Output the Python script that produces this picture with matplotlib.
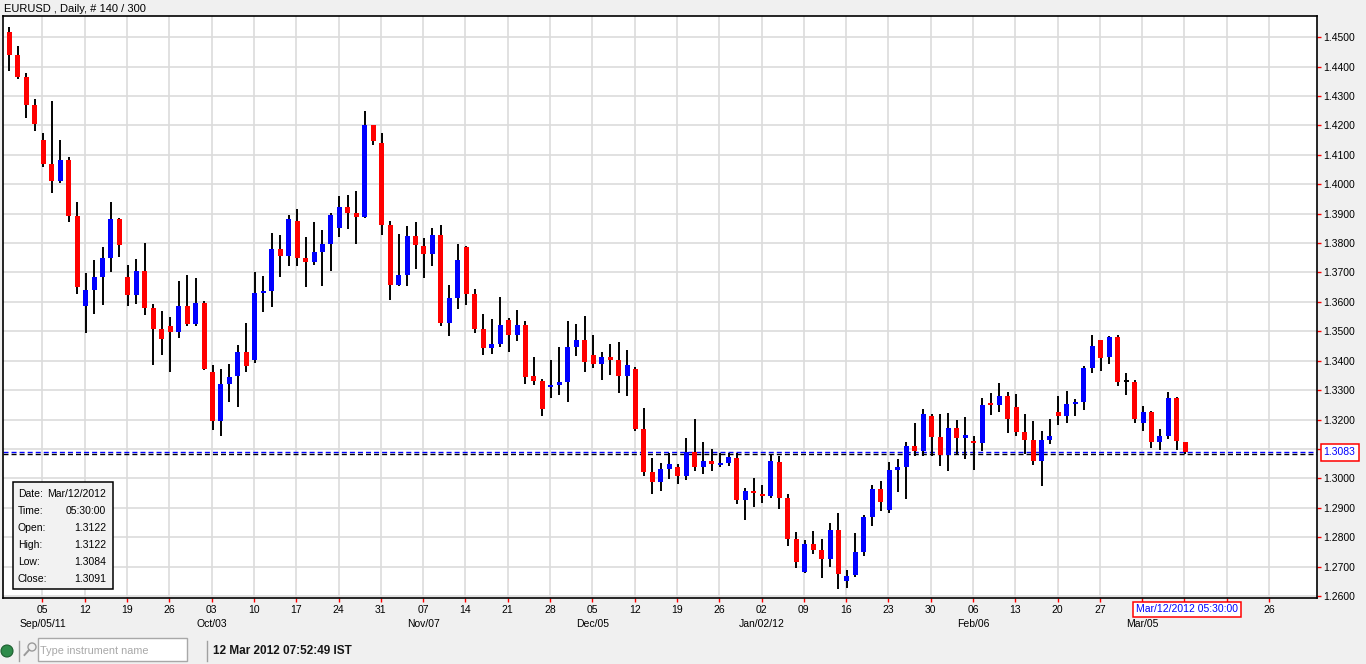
import numpy as np
import pandas as pd
import matplotlib
matplotlib.use("Agg")
import matplotlib.pyplot as plt
from matplotlib.patches import Rectangle, Ellipse
from matplotlib.lines import Line2D
from matplotlib.ticker import FormatStrFormatter

plt.rcParams['font.family'] = ['Liberation Sans', 'DejaVu Sans']

# ---- chart data (EURUSD daily) ----
title = "EURUSD , Daily, # 140 / 300"
first_day = "2011-08-30"
axis_days = 150  # business days on the time axis (chart leaves room on the right)

opens = [1.4518, 1.4440, 1.4365, 1.4270, 1.4151, 1.4069, 1.4012, 1.4083, 1.3892, 1.3587,
         1.3642, 1.3686, 1.3750, 1.3882, 1.3686, 1.3624, 1.3705, 1.3580, 1.3509, 1.3519,
         1.3499, 1.3587, 1.3526, 1.3597, 1.3363, 1.3196, 1.3322, 1.3349, 1.3431, 1.3403,
         1.3630, 1.3637, 1.3780, 1.3757, 1.3875, 1.3750, 1.3737, 1.3770, 1.3798, 1.3852,
         1.3923, 1.3902, 1.3890, 1.4202, 1.4140, 1.3863, 1.3659, 1.3693, 1.3824, 1.3790,
         1.3764, 1.3828, 1.3529, 1.3614, 1.3787, 1.3627, 1.3508, 1.3444, 1.3458, 1.3538,
         1.3488, 1.3521, 1.3349, 1.3331, 1.3312, 1.3318, 1.3329, 1.3448, 1.3470, 1.3419,
         1.3390, 1.3413, 1.3402, 1.3349, 1.3372, 1.3168, 1.3022, 1.2989, 1.3033, 1.3040,
         1.3009, 1.3091, 1.3040, 1.3059, 1.3046, 1.3053, 1.3069, 1.2927, 1.2958, 1.2948,
         1.2941, 1.3056, 1.2933, 1.2794, 1.2682, 1.2777, 1.2756, 1.2727, 1.2824, 1.2652,
         1.2672, 1.2750, 1.2869, 1.2964, 1.2893, 1.3029, 1.3040, 1.3110, 1.3093, 1.3212,
         1.3140, 1.3080, 1.3171, 1.3137, 1.3127, 1.3120, 1.3253, 1.3249, 1.3280, 1.3243,
         1.3158, 1.3130, 1.3059, 1.3130, 1.3226, 1.3212, 1.3253, 1.3260, 1.3375, 1.3470,
         1.3413, 1.3481, 1.3327, 1.3328, 1.3188, 1.3226, 1.3124, 1.3144, 1.3273, 1.3122]
highs = [1.4535, 1.4470, 1.4379, 1.4290, 1.4174, 1.4284, 1.4151, 1.4093, 1.3940, 1.3699,
         1.3744, 1.3787, 1.3940, 1.3884, 1.3726, 1.3747, 1.3800, 1.3594, 1.3570, 1.3550,
         1.3671, 1.3692, 1.3682, 1.3604, 1.3386, 1.3373, 1.3390, 1.3454, 1.3529, 1.3702,
         1.3688, 1.3834, 1.3828, 1.3896, 1.3916, 1.3821, 1.3872, 1.3845, 1.3902, 1.3960,
         1.3964, 1.3977, 1.4249, 1.4203, 1.4174, 1.3875, 1.3831, 1.3858, 1.3872, 1.3817,
         1.3851, 1.3862, 1.3659, 1.3797, 1.3790, 1.3644, 1.3559, 1.3542, 1.3617, 1.3545,
         1.3572, 1.3535, 1.3414, 1.3338, 1.3403, 1.3448, 1.3535, 1.3525, 1.3552, 1.3487,
         1.3430, 1.3457, 1.3464, 1.3436, 1.3379, 1.3239, 1.3070, 1.3053, 1.3087, 1.3050,
         1.3138, 1.3203, 1.3124, 1.3100, 1.3085, 1.3085, 1.3085, 1.2966, 1.3001, 1.2977,
         1.3079, 1.3076, 1.2947, 1.2817, 1.2790, 1.2821, 1.2794, 1.2848, 1.2882, 1.2689,
         1.2814, 1.2875, 1.2977, 1.2991, 1.3056, 1.3066, 1.3124, 1.3188, 1.3236, 1.3219,
         1.3219, 1.3222, 1.3198, 1.3208, 1.3144, 1.3273, 1.3290, 1.3324, 1.3294, 1.3287,
         1.3219, 1.3195, 1.3161, 1.3202, 1.3280, 1.3297, 1.3270, 1.3382, 1.3487, 1.3471,
         1.3484, 1.3487, 1.3358, 1.3334, 1.3246, 1.3229, 1.3168, 1.3294, 1.3277, 1.3122]
lows = [1.4386, 1.4358, 1.4227, 1.4182, 1.4060, 1.3971, 1.4005, 1.3873, 1.3628, 1.3495,
        1.3560, 1.3590, 1.3703, 1.3754, 1.3587, 1.3594, 1.3556, 1.3386, 1.3420, 1.3363,
        1.3478, 1.3519, 1.3519, 1.3369, 1.3165, 1.3145, 1.3261, 1.3244, 1.3363, 1.3393,
        1.3567, 1.3584, 1.3686, 1.3723, 1.3723, 1.3652, 1.3727, 1.3655, 1.3706, 1.3822,
        1.3849, 1.3798, 1.3886, 1.4135, 1.3829, 1.3608, 1.3655, 1.3655, 1.3713, 1.3682,
        1.3723, 1.3519, 1.3485, 1.3577, 1.3590, 1.3495, 1.3420, 1.3424, 1.3448, 1.3431,
        1.3468, 1.3322, 1.3318, 1.3213, 1.3274, 1.3284, 1.3261, 1.3417, 1.3363, 1.3376,
        1.3335, 1.3352, 1.3291, 1.3281, 1.3162, 1.3009, 1.2948, 1.2958, 1.2997, 1.2982,
        1.2995, 1.3026, 1.3016, 1.3026, 1.3040, 1.3043, 1.2914, 1.2859, 1.2903, 1.2917,
        1.2934, 1.2897, 1.2771, 1.2696, 1.2679, 1.2744, 1.2662, 1.2699, 1.2625, 1.2628,
        1.2665, 1.2737, 1.2839, 1.2890, 1.2883, 1.2954, 1.2931, 1.3076, 1.3076, 1.3076,
        1.3042, 1.3025, 1.3084, 1.3067, 1.3029, 1.3093, 1.3215, 1.3226, 1.3154, 1.3144,
        1.3083, 1.3045, 1.2974, 1.3117, 1.3181, 1.3188, 1.3212, 1.3232, 1.3358, 1.3365,
        1.3389, 1.3314, 1.3283, 1.3188, 1.3161, 1.3103, 1.3096, 1.3134, 1.3096, 1.3084]
closes = [1.4441, 1.4366, 1.4271, 1.4206, 1.4070, 1.4012, 1.4083, 1.3893, 1.3652, 1.3641,
          1.3686, 1.3750, 1.3882, 1.3795, 1.3624, 1.3705, 1.3580, 1.3509, 1.3475, 1.3499,
          1.3587, 1.3526, 1.3597, 1.3373, 1.3196, 1.3322, 1.3346, 1.3431, 1.3383, 1.3630,
          1.3637, 1.3780, 1.3757, 1.3882, 1.3750, 1.3737, 1.3770, 1.3797, 1.3896, 1.3923,
          1.3903, 1.3890, 1.4202, 1.4148, 1.3863, 1.3659, 1.3692, 1.3824, 1.3795, 1.3764,
          1.3828, 1.3529, 1.3613, 1.3743, 1.3628, 1.3509, 1.3444, 1.3457, 1.3521, 1.3488,
          1.3521, 1.3346, 1.3332, 1.3237, 1.3318, 1.3329, 1.3447, 1.3470, 1.3397, 1.3390,
          1.3413, 1.3403, 1.3349, 1.3385, 1.3169, 1.3023, 1.2989, 1.3032, 1.3049, 1.3009,
          1.3091, 1.3040, 1.3059, 1.3050, 1.3052, 1.3072, 1.2927, 1.2958, 1.2951, 1.2941,
          1.3059, 1.2934, 1.2795, 1.2716, 1.2777, 1.2757, 1.2727, 1.2824, 1.2676, 1.2668,
          1.2749, 1.2868, 1.2964, 1.2920, 1.3028, 1.3038, 1.3110, 1.3093, 1.3219, 1.3140,
          1.3079, 1.3171, 1.3137, 1.3147, 1.3120, 1.3249, 1.3249, 1.3280, 1.3202, 1.3158,
          1.3130, 1.3059, 1.3130, 1.3144, 1.3212, 1.3253, 1.3260, 1.3375, 1.3450, 1.3409,
          1.3481, 1.3328, 1.3327, 1.3202, 1.3226, 1.3124, 1.3144, 1.3273, 1.3127, 1.3091]

ask_level = 1.3088     # blue dashed line
bid_level = 1.3084     # black dashed line
price_label = "1.3083"
cursor_label = "Mar/12/2012 05:30:00"
cursor_bar = 139
cursor_halfwidth = 6.5  # bars hidden either side of the cursor label
info_rows = ["Date:", "Time:", "Open:", "High:", "Low:", "Close:"]
info_vals = ["Mar/12/2012", "05:30:00", "1.3122", "1.3122", "1.3084", "1.3091"]
status_time = "12 Mar 2012 07:52:49 IST"
search_hint = "Type instrument name"

W, H = 1366, 664


def fx(px):
    return px / W


def fy(py):
    return 1 - py / H


fig = plt.figure(figsize=(W / 100, H / 100), dpi=100, facecolor="#f0f0f0")
ax = fig.add_axes([fx(3.3), fy(598), (1317.3 - 3.3) / W, (598 - 16) / H])
ax.set_facecolor("white")

o = np.array(opens)
c = np.array(closes)
hi = np.array(highs)
lo = np.array(lows)
x = np.arange(len(o))

colors = np.where(c > o, "#0000ff", np.where(c < o, "#ff0000", "black"))
ax.vlines(x, lo, hi, color="black", lw=1.4, zorder=3)
body_bottom = np.minimum(o, c)
body_height = np.maximum(np.abs(c - o), 0.0006)
ax.bar(x, body_height, bottom=body_bottom, width=0.59, color=colors, lw=0, zorder=4)

# bid / ask lines
ax.axhline(ask_level, color="#0000ff", lw=1.0, ls=(0, (3.6, 2.2)), zorder=2.5)
ax.axhline(bid_level, color="black", lw=1.0, ls=(0, (3.6, 2.2)), zorder=2.5)

ax.set_xlim(-0.73, 154.6)
ax.set_ylim(1.25929, 1.45724)

# y axis on the right
ax.yaxis.tick_right()
ax.set_yticks(np.arange(1.26, 1.4501, 0.01))
ax.yaxis.set_major_formatter(FormatStrFormatter("%.4f"))
ax.tick_params(axis="y", colors="red", labelcolor="black", length=3.2, width=1,
               pad=0.8, labelsize=7.5, direction="out")

# weekly ticks on the time axis (labels under the cursor box are hidden)
dates = pd.bdate_range(first_day, periods=axis_days)
mondays = [i for i, d in enumerate(dates) if d.weekday() == 0]
ax.set_xticks([m - 0.1 for m in mondays])
ax.set_xticklabels(["" if abs(m - cursor_bar) <= cursor_halfwidth else dates[m].strftime("%d")
                    for m in mondays])
ax.tick_params(axis="x", colors="red", labelcolor="black", length=3.2, width=1,
               pad=1.5, labelsize=7.5, direction="out")

# month labels under the first Monday of each month
seen_months = set()
seen_years = set()
for m in mondays:
    d = dates[m]
    if m > cursor_bar:
        continue
    key = (d.year, d.month)
    if key in seen_months:
        continue
    seen_months.add(key)
    lab = d.strftime("%b/%d")
    if d.year not in seen_years:
        lab += d.strftime("/%y")
        seen_years.add(d.year)
    ax.annotate(lab, xy=(m - 0.1, 0), xycoords=("data", "axes fraction"),
                xytext=(0, -26 * 0.72), textcoords="offset points",
                ha="center", va="center", fontsize=7.5, annotation_clip=False)

ax.set_axisbelow(True)
ax.grid(True, color="#dcdcdc", lw=1.2)
for s in ax.spines.values():
    s.set_color("black")
    s.set_linewidth(1.2)

# cursor date box on time axis
ax.annotate(cursor_label, xy=(cursor_bar, 0), xycoords=("data", "axes fraction"),
            xytext=(1.5, -11.5 * 0.72), textcoords="offset points",
            ha="center", va="center", fontsize=7.5, color="#0000ff",
            bbox=dict(boxstyle="square,pad=0.28", fc="white", ec="red", lw=1.1),
            annotation_clip=False, zorder=10)

# current price box on price axis
ax.annotate(price_label, xy=(1, ask_level), xycoords=("axes fraction", "data"),
            xytext=(4.6, 0), textcoords="offset points",
            ha="left", va="center", fontsize=7.5, color="#0000ff",
            bbox=dict(boxstyle="square,pad=0.3", fc="white", ec="red", lw=1.1),
            annotation_clip=False, zorder=10)

# title
fig.text(fx(4), fy(8.5), title, fontsize=8, va="center", ha="left")

# data window box
fig.patches.append(Rectangle((fx(13.3), fy(589.3)), (112.7 - 13.3) / W, (589.3 - 482.3) / H,
                             transform=fig.transFigure, fc="#f2f2f2", ec="black", lw=1.1))
for k, (lab, val) in enumerate(zip(info_rows, info_vals)):
    yy = 494 + 17 * k
    fig.text(fx(17.7), fy(yy), lab, fontsize=7.5, va="center", ha="left")
    fig.text(fx(106.3), fy(yy), val, fontsize=7.5, va="center", ha="right")

# status bar
fig.patches.append(Ellipse((fx(7), fy(651)), 12 / W, 12 / H, transform=fig.transFigure,
                           fc="#2e8b4a", ec="#1b5e2e", lw=0.8))
fig.lines.append(Line2D([fx(19), fx(19)], [fy(641), fy(661)], transform=fig.transFigure,
                        color="#a0a0a0", lw=1))
fig.patches.append(Ellipse((fx(32), fy(647)), 8 / W, 8 / H, transform=fig.transFigure,
                           fc="none", ec="#9a9a9a", lw=1))
fig.lines.append(Line2D([fx(29), fx(24.5)], [fy(650), fy(655)], transform=fig.transFigure,
                        color="#9a9a9a", lw=1.4))
fig.patches.append(Rectangle((fx(38.3), fy(661)), (187.3 - 38.3) / W, (661 - 638.3) / H,
                             transform=fig.transFigure, fc="white", ec="#a8a8a8", lw=1))
fig.text(fx(39.5), fy(650.5), search_hint, fontsize=7.8, color="#a8a8a8", va="center", ha="left")
fig.lines.append(Line2D([fx(207), fx(207)], [fy(641), fy(661)], transform=fig.transFigure,
                        color="#a0a0a0", lw=1))
fig.text(fx(213), fy(651), status_time, fontsize=8.5, fontweight="bold", color="#151515",
         va="center", ha="left")

fig.savefig("out.png", dpi=100, facecolor=fig.get_facecolor())
